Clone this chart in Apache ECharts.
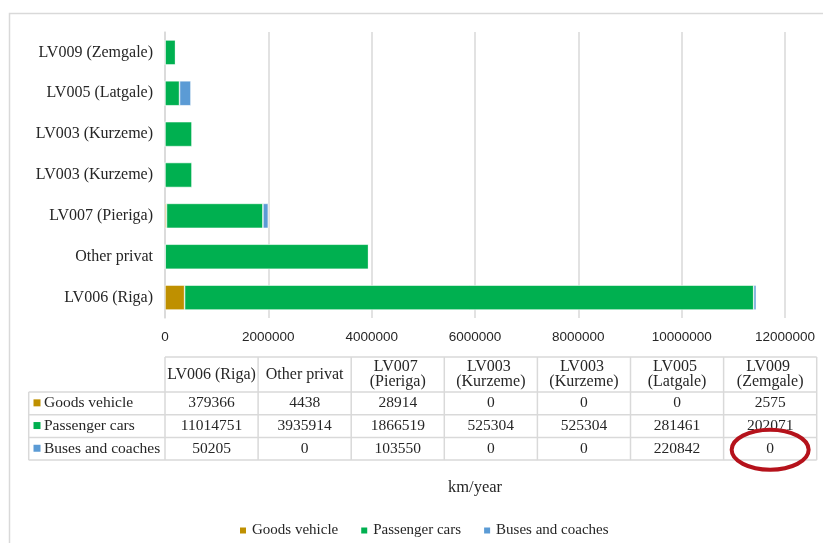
<!DOCTYPE html>
<html>
<head>
<meta charset="utf-8">
<title>km/year by region</title>
<script src="https://cdn.jsdelivr.net/npm/echarts@6/dist/echarts.min.js"></script>
<style>
  html, body { margin: 0; padding: 0; background: #ffffff; }
  #chart { width: 823px; height: 543px; }
</style>
</head>
<body>
<div id="chart"></div>
<script>
// Regions, bottom to top on the category axis (same order as table columns)
const categories = [
  'LV006 (Riga)', 'Other privat', 'LV007 (Pieriga)', 'LV003 (Kurzeme)',
  'LV003 (Kurzeme)', 'LV005 (Latgale)', 'LV009 (Zemgale)'
];
const seriesNames = ['Goods vehicle', 'Passenger cars', 'Buses and coaches'];
const goodsVehicle = [379366, 4438, 28914, 0, 0, 0, 2575];
const passengerCars = [11014751, 3935914, 1866519, 525304, 525304, 281461, 202071];
const busesCoaches = [50205, 0, 103550, 0, 0, 220842, 0];
const axisTicks = [0, 2000000, 4000000, 6000000, 8000000, 10000000, 12000000];

const colors = ['#BF9000', '#00B050', '#5B9BD5'];
const serif = '"Liberation Serif", "Times New Roman", serif';
const textColor = '#262626';
const lineColor = '#d9d9d9';

const seriesValues = [goodsVehicle, passengerCars, busesCoaches];

// Data table geometry
const tbl = {
  labelLeft: 28.7,
  colLeft: 165,
  colW: 93.1,
  headTop: 357,
  headBottom: 392,
  rowH: 22.7
};

function buildTable() {
  const els = [];
  const right = tbl.colLeft + tbl.colW * categories.length;
  const rowLines = [tbl.headBottom];
  for (let i = 1; i <= seriesNames.length; i++) rowLines.push(tbl.headBottom + tbl.rowH * i);
  const bottom = rowLines[rowLines.length - 1];
  const line = (x1, y1, x2, y2) => ({
    type: 'line', silent: true,
    shape: { x1, y1, x2, y2 },
    style: { stroke: lineColor, lineWidth: 1.5 }
  });
  // horizontal rules
  els.push(line(tbl.colLeft, tbl.headTop, right, tbl.headTop));
  rowLines.forEach(y => els.push(line(tbl.labelLeft, y, right, y)));
  // vertical rules
  els.push(line(tbl.labelLeft, tbl.headBottom, tbl.labelLeft, bottom));
  for (let c = 0; c <= categories.length; c++) {
    const x = tbl.colLeft + tbl.colW * c;
    els.push(line(x, tbl.headTop, x, bottom));
  }
  // header cells
  categories.forEach((name, c) => {
    els.push({
      type: 'text', silent: true,
      x: tbl.colLeft + tbl.colW * (c + 0.5),
      y: (tbl.headTop + tbl.headBottom) / 2,
      style: {
        text: name, width: tbl.colW, overflow: 'break',
        font: '16px ' + serif, fill: textColor,
        align: 'center', verticalAlign: 'middle', lineHeight: 15
      }
    });
  });
  // body rows: legend key, series name and values
  seriesNames.forEach((name, r) => {
    const cy = tbl.headBottom + tbl.rowH * (r + 0.5);
    els.push({
      type: 'rect', silent: true,
      shape: { x: 33.5, y: cy - 4, width: 7, height: 7 },
      style: { fill: colors[r] }
    });
    els.push({
      type: 'text', silent: true, x: 44, y: cy,
      style: { text: name, font: '15.5px ' + serif, fill: textColor, verticalAlign: 'middle' }
    });
    seriesValues[r].forEach((v, c) => {
      els.push({
        type: 'text', silent: true,
        x: tbl.colLeft + tbl.colW * (c + 0.5), y: cy,
        style: { text: String(v), font: '15.5px ' + serif, fill: textColor, align: 'center', verticalAlign: 'middle' }
      });
    });
  });
  // highlight around the LV009 buses value
  const hx = tbl.colLeft + tbl.colW * 6.5;
  const hy = tbl.headBottom + tbl.rowH * 2.5 + 1;
  els.push({
    type: 'ellipse', silent: true,
    shape: { cx: hx, cy: hy, rx: 38.5, ry: 20 },
    style: { fill: 'none', stroke: '#B5121B', lineWidth: 4 }
  });
  return els;
}

const chart = echarts.init(document.getElementById('chart'), null, { renderer: 'canvas' });

chart.setOption({
  backgroundColor: '#ffffff',
  animation: false,
  color: colors,
  grid: { left: 165, top: 32, width: 620, height: 286, containLabel: false },
  legend: {
    data: seriesNames,
    left: 233, top: 518,
    icon: 'rect', itemWidth: 8, itemHeight: 8, itemGap: 21,
    textStyle: { fontFamily: serif, fontSize: 15, color: textColor }
  },
  xAxis: {
    type: 'value',
    min: axisTicks[0],
    max: axisTicks[axisTicks.length - 1],
    interval: axisTicks[1] - axisTicks[0],
    name: 'km/year',
    nameLocation: 'middle',
    nameGap: 161,
    nameTextStyle: { fontFamily: serif, fontSize: 16.5, color: textColor },
    axisLine: { show: false },
    axisTick: { show: false },
    axisLabel: {
      margin: 12, fontFamily: '"Liberation Sans", Arial, sans-serif', fontSize: 13.5, color: textColor,
      formatter: v => String(v)
    },
    splitLine: { show: true, lineStyle: { color: lineColor, width: 1.5 } }
  },
  yAxis: {
    type: 'category',
    data: categories,
    axisLine: { show: true, lineStyle: { color: lineColor, width: 1.5 } },
    axisTick: { show: false },
    axisLabel: { margin: 12, fontFamily: serif, fontSize: 16, color: textColor }
  },
  series: seriesNames.map((name, i) => ({
    name,
    type: 'bar',
    stack: 'total',
    barWidth: '61%',
    data: seriesValues[i],
    itemStyle: { color: colors[i], borderColor: '#ffffff', borderWidth: 0.6 }
  })),
  graphic: [
    {
      type: 'rect', silent: true, z: -1,
      shape: { x: 9.5, y: 13.5, width: 900, height: 700 },
      style: { fill: 'none', stroke: lineColor, lineWidth: 1.5 }
    },
    ...buildTable()
  ]
});
</script>
</body>
</html>
